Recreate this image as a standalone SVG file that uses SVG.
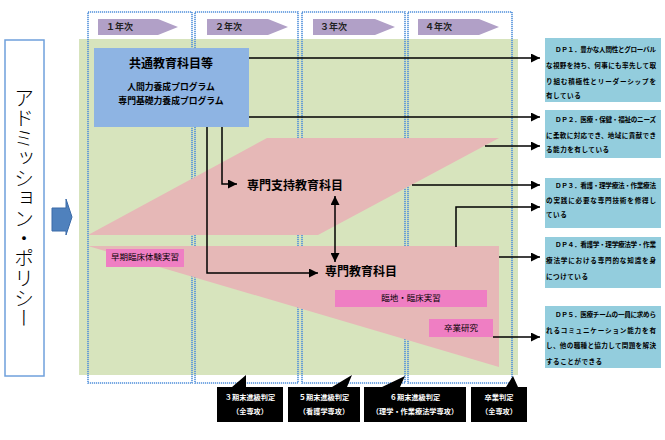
<svg xmlns="http://www.w3.org/2000/svg" width="665" height="440" viewBox="0 0 665 440">
<defs>
<style>
text{font-family:"Noto Sans CJK JP","Noto Sans",sans-serif;fill:#000}
.col{fill:none;stroke:#4F8FDA;stroke-width:1.6;stroke-dasharray:1.2 0.8}
.yr{fill:#B1A0C7}
.yrt{font-size:9px;font-weight:bold;fill:#222}
.pink{fill:#E6B8B7}
.mag{fill:#EF7EC3}
.magt{font-size:8.5px;text-anchor:middle}
.dp{fill:#93CDDD}
.dpt{font-size:6.6px;font-weight:bold}
.cl{fill:#000}
.clt{font-size:7.2px;font-weight:bold;fill:#fff;text-anchor:middle}
.ln{fill:none;stroke:#000;stroke-width:1.5}
.big{font-size:12px;font-weight:bold}
</style>
<marker id="ah" markerUnits="userSpaceOnUse" markerWidth="9" markerHeight="9" viewBox="0 0 10 10" refX="10" refY="5" orient="auto">
<path d="M0,0 L10,5 L0,10 z" fill="#000"/>
</marker>
<marker id="as" markerUnits="userSpaceOnUse" markerWidth="9" markerHeight="9" viewBox="0 0 10 10" refX="10" refY="5" orient="auto-start-reverse">
<path d="M0,0 L10,5 L0,10 z" fill="#000"/>
</marker>
</defs>
<rect width="665" height="440" fill="#fff"/>

<g id="admission">
<rect x="5" y="40" width="39" height="336" fill="#fff" stroke="#6FA0DC" stroke-width="1.5"/>
<text x="24" y="88" style="writing-mode:vertical-rl;font-size:20px;font-family:'Noto Sans CJK JP',sans-serif;font-weight:300">アドミッション・ポリシー</text>
</g>
<g id="admission-arrow">
<path d="M52,208 L66,208 L66,199 L72,217 L66,235 L66,231 L52,231 z" fill="#4F81BD" stroke="#3A6AA8" stroke-width="1"/>
</g>

<g id="background">
<rect x="79" y="39" width="439" height="336" fill="#D7E4BD"/>
</g>

<g id="years">
<rect class="col" x="88" y="12" width="104" height="371"/>
<rect class="col" x="195" y="12" width="103" height="371"/>
<rect class="col" x="302" y="12" width="103" height="371"/>
<rect class="col" x="408" y="12" width="104" height="371"/>
<path class="yr" d="M98,19 L158,19 L178,27 L158,35 L98,35 z"/>
<path class="yr" d="M207,19 L268,19 L288,27 L268,35 L207,35 z"/>
<path class="yr" d="M313,19 L375,19 L395,27 L375,35 L313,35 z"/>
<path class="yr" d="M418,19 L479,19 L499,27 L479,35 L418,35 z"/>
<text class="yrt" x="106" y="30">１年次</text>
<text class="yrt" x="215" y="30">２年次</text>
<text class="yrt" x="320" y="30">３年次</text>
<text class="yrt" x="425" y="30">４年次</text>
</g>

<g id="senmon-shiji">
<path class="pink" d="M88,235 L267,138 L499,138 L318,235 z"/>
<text class="big" x="247" y="190">専門支持教育科目</text>
</g>
<g id="senmon">
<path class="pink" d="M88,246 L499,246 L499,367 z"/>
<text class="big" x="325" y="276">専門教育科目</text>
</g>

<g id="kyotsu">
<rect x="94" y="48" width="155" height="79" fill="#8EB4E3"/>
<text x="171" y="68" class="big" text-anchor="middle">共通教育科目等</text>
<text x="171" y="90" font-size="8.8" font-weight="bold" text-anchor="middle">人間力養成プログラム</text>
<text x="171" y="104" font-size="8.8" font-weight="bold" text-anchor="middle">専門基礎力養成プログラム</text>
</g>

<g id="soki">
<rect class="mag" x="106" y="249" width="78" height="18"/>
<text class="magt" x="145" y="260" font-size="7.5">早期臨床体験実習</text>
</g>
<g id="rinchi">
<rect class="mag" x="335" y="290" width="152" height="17"/>
<text class="magt" x="411" y="301">臨地・臨床実習</text>
</g>
<g id="sotsuken">
<rect class="mag" x="429" y="319" width="64" height="18"/>
<text class="magt" x="461" y="331">卒業研究</text>
</g>

<g id="connectors">
<line class="ln" x1="249" y1="58" x2="540" y2="58" marker-end="url(#ah)"/>
<line class="ln" x1="249" y1="117" x2="540" y2="117" marker-end="url(#ah)"/>
<line class="ln" x1="485" y1="146" x2="540" y2="146" marker-end="url(#ah)"/>
<line class="ln" x1="412" y1="185" x2="540" y2="185" marker-end="url(#ah)"/>
<polyline class="ln" points="456,247 456,207 540,207" marker-end="url(#ah)"/>
<line class="ln" x1="499" y1="257" x2="540" y2="257" marker-end="url(#ah)"/>
<line class="ln" x1="493" y1="337" x2="540" y2="337" marker-end="url(#ah)"/>
<polyline class="ln" points="222,127 222,184 237,184" marker-end="url(#ah)"/>
<polyline class="ln" points="207,127 207,273 318,273" marker-end="url(#ah)"/>
<line class="ln" x1="335" y1="196" x2="335" y2="262" marker-start="url(#as)" marker-end="url(#ah)"/>
</g>

<g id="dp1">
<rect class="dp" x="545" y="38" width="116" height="64"/>
<text class="dpt" x="555" y="52" textLength="101" lengthAdjust="spacing">ＤＰ１．豊かな人間性とグローバル</text>
<text class="dpt" x="546" y="68" textLength="110" lengthAdjust="spacing">な視野を持ち、何事にも率先して取</text>
<text class="dpt" x="546" y="84" textLength="110" lengthAdjust="spacing">り組む積極性とリーダーシップを</text>
<text class="dpt" x="546" y="98" letter-spacing="0.5">有している</text>
</g>
<g id="dp2">
<rect class="dp" x="545" y="110" width="116" height="48"/>
<text class="dpt" x="555" y="122" textLength="101" lengthAdjust="spacing">ＤＰ２．医療・保健・福祉のニーズ</text>
<text class="dpt" x="546" y="138" textLength="110" lengthAdjust="spacing">に柔軟に対応でき、地域に貢献でき</text>
<text class="dpt" x="546" y="152" letter-spacing="0.5">る能力を有している</text>
</g>
<g id="dp3">
<rect class="dp" x="545" y="178" width="116" height="50"/>
<text class="dpt" x="555" y="188" textLength="101" lengthAdjust="spacing">ＤＰ３．看護・理学療法・作業療法</text>
<text class="dpt" x="546" y="203" textLength="110" lengthAdjust="spacing">の実践に必要な専門技術を修得し</text>
<text class="dpt" x="546" y="217" letter-spacing="0.5">ている</text>
</g>
<g id="dp4">
<rect class="dp" x="545" y="237" width="116" height="51"/>
<text class="dpt" x="555" y="247" textLength="101" lengthAdjust="spacing">ＤＰ４．看護学・理学療法学・作業</text>
<text class="dpt" x="546" y="263" textLength="110" lengthAdjust="spacing">療法学における専門的な知識を身</text>
<text class="dpt" x="546" y="279" letter-spacing="0.5">につけている</text>
</g>
<g id="dp5">
<rect class="dp" x="545" y="306" width="116" height="62"/>
<text class="dpt" x="555" y="317" textLength="101" lengthAdjust="spacing">ＤＰ５．医療チームの一員に求めら</text>
<text class="dpt" x="546" y="333" textLength="110" lengthAdjust="spacing">れるコミュニケーション能力を有</text>
<text class="dpt" x="546" y="348" textLength="110" lengthAdjust="spacing">し、他の職種と協力して問題を解決</text>
<text class="dpt" x="546" y="364" letter-spacing="0.5">することができる</text>
</g>

<g id="hantei3">
<path class="cl" d="M217,387 L232,387 L246,375 L246,387 L283,387 L283,422 L217,422 z"/>
<text class="clt" x="250" y="400">３期末進級判定</text>
<text class="clt" x="250" y="414">（全専攻）</text>
</g>
<g id="hantei5">
<path class="cl" d="M288,387 L332,387 L352,375 L347,387 L360,387 L360,422 L288,422 z"/>
<text class="clt" x="324" y="400">５期末進級判定</text>
<text class="clt" x="324" y="414">（看護学専攻）</text>
</g>
<g id="hantei6">
<path class="cl" d="M364,387 L382,387 L405,376 L400,387 L466,387 L466,422 L364,422 z"/>
<text class="clt" x="415" y="400">６期末進級判定</text>
<text class="clt" x="415" y="414">（理学・作業療法学専攻）</text>
</g>
<g id="sotsugyo">
<path class="cl" d="M471,387 L506,387 L513,376 L518,387 L527,387 L527,422 L471,422 z"/>
<text class="clt" x="499" y="400">卒業判定</text>
<text class="clt" x="499" y="414">（全専攻）</text>
</g>
</svg>
